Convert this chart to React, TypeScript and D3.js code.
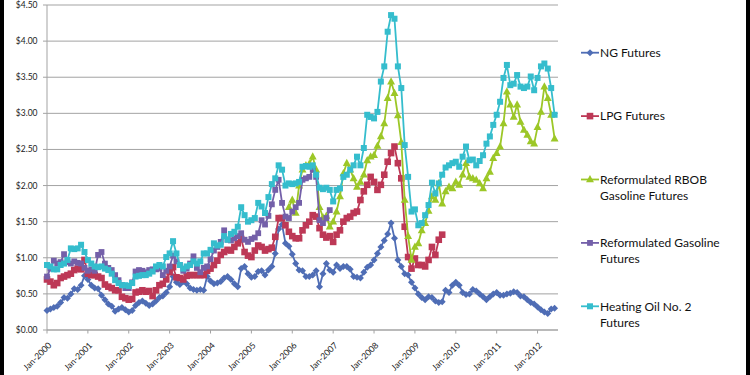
import React from "react";
import * as d3 from "d3";

// ---------- data (monthly, $ per gallon-equivalent) ----------
const yTickValues = [0, 0.5, 1, 1.5, 2, 2.5, 3, 3.5, 4, 4.5];
const xTickLabels = [
  "Jan-2000", "Jan-2001", "Jan-2002", "Jan-2003", "Jan-2004", "Jan-2005", "Jan-2006",
  "Jan-2007", "Jan-2008", "Jan-2009", "Jan-2010", "Jan-2011", "Jan-2012",
];

const ngStart = "2000-01";
const ngFutures = [
  0.27, 0.29, 0.31, 0.33, 0.38, 0.45, 0.44, 0.50, 0.57, 0.56, 0.62, 0.75,
  0.70, 0.62, 0.58, 0.57, 0.48, 0.42, 0.36, 0.33, 0.26, 0.29, 0.31, 0.28,
  0.25, 0.27, 0.34, 0.38, 0.40, 0.37, 0.34, 0.36, 0.40, 0.45, 0.47, 0.52,
  0.60, 0.74, 0.66, 0.63, 0.67, 0.64, 0.58, 0.56, 0.55, 0.56, 0.55, 0.74,
  0.68, 0.64, 0.65, 0.67, 0.72, 0.74, 0.70, 0.64, 0.60, 0.85, 0.88, 0.78,
  0.73, 0.74, 0.81, 0.82, 0.76, 0.83, 0.88, 1.06, 1.40, 1.46, 1.20, 1.16,
  1.05, 0.92, 0.83, 0.82, 0.74, 0.74, 0.76, 0.82, 0.60, 0.78, 0.92, 0.83,
  0.80, 0.90, 0.85, 0.88, 0.88, 0.84, 0.74, 0.73, 0.72, 0.80, 0.87, 0.90,
  0.97, 1.06, 1.15, 1.24, 1.33, 1.48, 1.27, 0.97, 0.88, 0.78, 0.76, 0.66,
  0.58, 0.50, 0.45, 0.42, 0.46, 0.45, 0.40, 0.38, 0.39, 0.55, 0.52, 0.62,
  0.66, 0.62, 0.52, 0.49, 0.50, 0.56, 0.54, 0.50, 0.46, 0.42, 0.46, 0.50,
  0.52, 0.48, 0.48, 0.50, 0.51, 0.53, 0.52, 0.47, 0.46, 0.42, 0.38, 0.36,
  0.32, 0.28, 0.25, 0.23, 0.29, 0.30,
];

const lpgStart = "2000-01";
const lpgFutures = [
  0.70, 0.67, 0.62, 0.65, 0.72, 0.74, 0.76, 0.78, 0.83, 0.85, 0.84, 0.97,
  0.78, 0.76, 0.76, 0.74, 0.72, 0.63, 0.60, 0.58, 0.55, 0.55, 0.46, 0.44,
  0.42, 0.43, 0.52, 0.53, 0.55, 0.53, 0.54, 0.47, 0.55, 0.62, 0.64, 0.70,
  0.80, 0.87, 0.73, 0.72, 0.70, 0.75, 0.76, 0.76, 0.76, 0.76, 0.76, 0.82,
  0.85, 0.90, 0.96, 1.04, 1.08, 1.11, 1.10, 1.15, 1.20, 1.26, 1.08, 1.03,
  1.01, 1.10, 1.17, 1.15, 1.10, 1.12, 1.14, 1.29, 1.55, 1.55, 1.45, 1.36,
  1.30, 1.27, 1.27, 1.38, 1.45, 1.50, 1.59, 1.57, 1.41, 1.32, 1.28, 1.30,
  1.22, 1.32, 1.38, 1.50, 1.55, 1.57, 1.62, 1.64, 1.80, 1.92, 2.01, 2.12,
  2.05, 1.94, 2.01, 2.15, 2.33, 2.45, 2.54, 2.31, 2.10, 1.43, 1.01, 0.85,
  0.99, 0.90, 0.90, 0.88, 0.97, 1.15, 1.04, 1.25, 1.32,
];

const rbobStart = "2005-12";
const rbobFutures = [
  1.70,
  1.80, 1.62, 2.00, 2.22, 2.28, 2.30, 2.40, 2.22, 1.70, 1.56, 1.58, 1.43,
  1.50, 1.64, 1.85, 2.17, 2.31, 2.22, 2.10, 1.98, 2.05, 2.15, 2.35, 2.40,
  2.42, 2.55, 2.68, 2.86, 3.21, 3.44, 3.28, 2.97, 2.60, 1.80, 1.30, 0.97,
  1.15, 1.20, 1.38, 1.48, 1.65, 1.85, 1.80, 2.03, 1.75, 1.92, 1.98, 1.96,
  2.05, 2.01, 2.15, 2.31, 2.12, 2.10, 2.08, 2.03, 1.96, 2.10, 2.19, 2.38,
  2.45, 2.54, 2.86, 3.30, 3.12, 2.95, 3.12, 2.88, 2.77, 2.70, 2.61, 2.58,
  2.81, 3.02, 3.37, 3.21, 2.98, 2.65,
];

const rfgStart = "2000-01";
const rfgFutures = [
  0.74, 0.85, 0.96, 0.92, 0.94, 1.05, 0.94, 0.92, 0.95, 0.93, 0.92, 0.86,
  0.82, 0.84, 0.82, 1.04, 1.08, 0.92, 0.86, 0.83, 0.76, 0.69, 0.62, 0.58,
  0.58, 0.66, 0.81, 0.83, 0.82, 0.80, 0.83, 0.84, 0.84, 0.85, 0.76, 0.82,
  0.88, 1.03, 0.95, 0.90, 0.82, 0.85, 0.92, 1.02, 0.86, 0.80, 0.86, 0.88,
  0.98, 1.10, 1.15, 1.22, 1.38, 1.25, 1.24, 1.27, 1.30, 1.34, 1.25, 1.22,
  1.26, 1.28, 1.34, 1.52, 1.46, 1.58, 1.74, 1.94, 2.08, 1.76, 1.57, 1.55,
  1.64, 1.70, 1.76, 2.08, 2.10, 2.12, 2.22, 2.12, 1.52, 1.48, 1.55, 1.66,
];

const hoStart = "2000-01";
const heatingOilFutures = [
  0.90, 0.88, 0.84, 0.84, 0.90, 0.92, 0.97, 1.13, 1.12, 1.13, 1.18, 1.08,
  0.97, 0.92, 0.88, 0.87, 0.88, 0.85, 0.83, 0.78, 0.69, 0.65, 0.62, 0.62,
  0.61, 0.65, 0.74, 0.75, 0.76, 0.76, 0.78, 0.81, 0.88, 0.90, 0.88, 1.01,
  1.06, 1.23, 1.06, 0.90, 0.85, 0.88, 0.90, 0.95, 0.92, 0.95, 1.06, 1.06,
  1.11, 1.20, 1.17, 1.18, 1.30, 1.25, 1.33, 1.36, 1.43, 1.70, 1.59, 1.50,
  1.52, 1.55, 1.76, 1.71, 1.62, 1.84, 2.02, 2.10, 2.28, 2.22, 2.00, 2.03,
  2.02, 2.03, 2.05, 2.26, 2.27, 2.26, 2.28, 2.15, 1.97, 1.95, 1.97, 1.94,
  1.78, 1.94, 1.96, 2.12, 2.15, 2.22, 2.28, 2.40, 2.28, 2.52, 2.98, 2.95,
  2.93, 3.02, 3.44, 3.65, 4.13, 4.36, 4.31, 3.65, 3.35, 2.56, 2.12, 1.64,
  1.67, 1.45, 1.48, 1.59, 1.73, 2.04, 1.89, 2.03, 2.15, 2.25, 2.28, 2.31,
  2.33, 2.26, 2.40, 2.54, 2.35, 2.36, 2.28, 2.34, 2.42, 2.58, 2.68, 2.84,
  2.98, 3.16, 3.49, 3.67, 3.39, 3.41, 3.53, 3.37, 3.35, 3.37, 3.51, 3.32,
  3.49, 3.65, 3.69, 3.62, 3.35, 2.98,
];

const seriesNames = [
  ["NG Futures"],
  ["LPG Futures"],
  ["Reformulated RBOB", "Gasoline Futures"],
  ["Reformulated Gasoline", "Futures"],
  ["Heating Oil No. 2", "Futures"],
];

// ---------- helpers ----------
const monthIndex = (ym: string) => {
  const [yy, mm] = ym.split("-").map(Number);
  return (yy - 2000) * 12 + (mm - 1);
};
const tickMonth = (label: string) => {
  const yy = Number(label.split("-")[1]);
  return (yy - 2000) * 12;
};

type Shape = "diamond" | "square" | "triangle";
const styles: { color: string; shape: Shape; size: number }[] = [
  { color: "#4F6DB5", shape: "diamond", size: 3.5 },
  { color: "#BD3856", shape: "square", size: 6.6 },
  { color: "#9CC727", shape: "triangle", size: 4.4 },
  { color: "#7460A9", shape: "square", size: 5.8 },
  { color: "#35BDCD", shape: "square", size: 6.0 },
];

function Marker({ shape, cx, cy, size, color }: { shape: Shape; cx: number; cy: number; size: number; color: string }) {
  if (shape === "diamond") {
    const r = size;
    return <path d={`M${cx},${cy - r}L${cx + r},${cy}L${cx},${cy + r}L${cx - r},${cy}Z`} fill={color} />;
  }
  if (shape === "square") {
    return <rect x={cx - size / 2} y={cy - size / 2} width={size} height={size} fill={color} />;
  }
  const r = size;
  return <path d={`M${cx},${cy - r}L${cx + r * 0.9},${cy + r * 0.65}L${cx - r * 0.9},${cy + r * 0.65}Z`} fill={color} />;
}

export default function App() {
  const x = d3.scaleLinear().domain([0, 150]).range([47, 558]);
  const y = d3.scaleLinear().domain([0, 4.5]).range([330, 5]);

  const raw: [string, number[]][] = [
    [ngStart, ngFutures],
    [lpgStart, lpgFutures],
    [rbobStart, rbobFutures],
    [rfgStart, rfgFutures],
    [hoStart, heatingOilFutures],
  ];
  const series = raw.map(([start, vals]) => {
    const s = monthIndex(start);
    return vals.map((v, i) => ({ m: s + i, v }));
  });

  const line = d3
    .line<{ m: number; v: number }>()
    .x((d) => x(d.m))
    .y((d) => y(d.v));

  const fmt = (v: number) => "$" + v.toFixed(2);
  const gridColor = "#A3A3A3";
  const font = "Lato, 'Open Sans', sans-serif";

  const legendTop = 52.7;
  const legendStep = 63.4;

  return (
    <svg
      width={750}
      height={375}
      style={{ position: "absolute", left: 0, top: 0, background: "#fff" }}
      fontFamily={font}
    >
      <rect x={0} y={0} width={750} height={375} fill="#fff" />
      {/* gridlines + y ticks */}
      {yTickValues.map((t) => (
        <g key={t}>
          <line x1={43} x2={558} y1={y(t)} y2={y(t)} stroke={gridColor} strokeWidth={1} />
          <text x={37.5} y={y(t)} dy="0.35em" textAnchor="end" fontSize={8.5} fill="#222">
            {fmt(t)}
          </text>
        </g>
      ))}
      {/* axes */}
      <line x1={47} x2={47} y1={y(4.5)} y2={y(0)} stroke={gridColor} strokeWidth={1} />
      <line x1={47} x2={558} y1={y(0)} y2={y(0)} stroke={gridColor} strokeWidth={1} />
      {xTickLabels.map((lab) => {
        const px = x(tickMonth(lab));
        return (
          <g key={lab}>
            <line x1={px} x2={px} y1={y(0)} y2={y(0) + 3.5} stroke={gridColor} strokeWidth={1} />
            <text
              transform={`translate(${px + 5},${y(0) + 16}) rotate(-45)`}
              textAnchor="end"
              fontSize={8.6}
              fill="#222"
            >
              {lab}
            </text>
          </g>
        );
      })}
      {/* series */}
      {series.map((pts, i) => {
        const st = styles[i];
        return (
          <g key={i}>
            <path d={line(pts) || ""} fill="none" stroke={st.color} strokeWidth={1.8} strokeLinejoin="round" />
            {pts.map((p) => (
              <Marker key={p.m} shape={st.shape} cx={x(p.m)} cy={y(p.v)} size={st.size} color={st.color} />
            ))}
          </g>
        );
      })}
      {/* legend */}
      {seriesNames.map((lines, i) => {
        const st = styles[i];
        const cy = legendTop + i * legendStep;
        return (
          <g key={i}>
            <line x1={581} x2={599} y1={cy} y2={cy} stroke={st.color} strokeWidth={1.8} />
            <Marker shape={st.shape} cx={590} cy={cy} size={st.size} color={st.color} />
            {lines.map((t, j) => (
              <text key={j} x={600} y={cy + j * 16} dy="0.36em" fontSize={12} fill="#111">
                {t}
              </text>
            ))}
          </g>
        );
      })}
      {/* dark side strips */}
      <rect x={0} y={0} width={4} height={375} fill="#000" />
      <rect x={746} y={0} width={4} height={375} fill="#000" />
    </svg>
  );
}
